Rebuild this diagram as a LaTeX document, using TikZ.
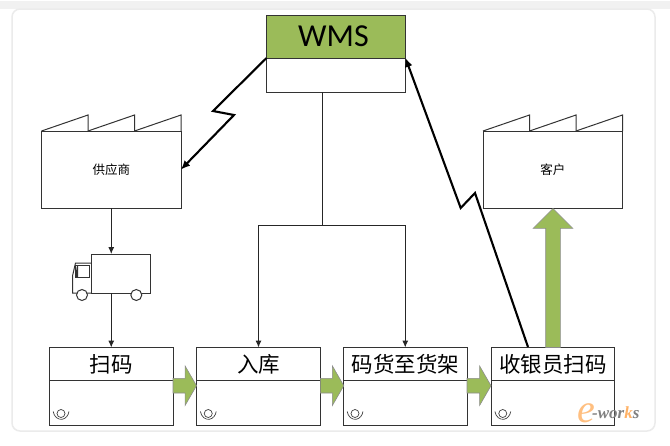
\documentclass[tikz,border=0pt]{standalone}
\usepackage{fontspec}
\setmainfont{Carlito}
\newfontfamily\cjk{Noto Sans CJK SC}
\newfontfamily\markfont{Liberation Serif}
\usetikzlibrary{arrows.meta,positioning,shapes.arrows}
\definecolor{barGreen}{HTML}{9BBB59}
\definecolor{panelGrey}{HTML}{F1F1F1}
\tikzset{%
	box/.style={draw=black!80,fill=white,line width=1pt,outer sep=0pt,inner sep=0pt},%
	prochead/.style={box,minimum width=123.5pt,minimum height=33pt,font=\cjk\fontsize{21.5}{22}\selectfont},%
	procbody/.style={box,minimum width=123.5pt,minimum height=45pt},%
	factory/.style={box,minimum width=139.5pt,minimum height=77pt,font=\cjk\fontsize{12.5}{13}\selectfont},%
	thin link/.style={draw=black!85,line width=1pt,-{Latex[length=7pt,width=6pt]}},%
	zig link/.style={draw=black,line width=2.1pt,-{Latex[length=9pt,width=8pt]}},%
	fat arrow/.style={single arrow,draw=black!45,fill=barGreen,line width=0.6pt,inner xsep=0pt,inner ysep=7pt,outer sep=0pt,minimum width=39pt,single arrow head extend=12.5pt}%
}
\begin{document}
\begin{tikzpicture}
	[x=1pt,y=-1pt%
	,every node/.style={text=black}]
	\useasboundingbox (0,0) rectangle (670,445);
	\fill[white] (0,0) rectangle (670,445);
	\fill[panelGrey] (0,1) rectangle (670,9);
	\fill[white,draw=black!8,line width=1.5pt,rounded corners=8pt] (12,9) rectangle (655,431);
	% top system box
	\node[box,fill=barGreen,minimum width=139pt,minimum height=43pt,font=\fontsize{32}{32}\selectfont] (wms) at (336,36.5) {\hspace*{-5pt}WMS};
	\node[box,minimum width=139pt,minimum height=34pt,below=0pt of wms] (wmsbody) {};
	% factories
	\node[factory] (supplier) at (111.25,169.5) {\cjk 供应商};
	\node[factory] (customer) at (552.75,169.5) {\cjk 客户};
	\foreach \fac in {supplier,customer}
		\foreach \i in {0,1,2}
			\draw[draw=black!80,line width=1pt,line join=miter]
				([xshift=\i*46.5pt]\fac.north west) -- ++(46.5,-16) -- ++(0,16);
	% truck
	\node[box,minimum width=58.5pt,minimum height=39pt] (truck) at (120.75,273.5) {};
	\draw[draw=black!80,line width=1pt] (truck.south west) -- ++(-19,0) -- ++(0,-17) -- ++(3,-13) -- ++(16,0);
	\draw[draw=black!80,line width=0.8pt] ([shift={(-16.5,-15.5)}]truck.south west) rectangle ([shift={(-2.5,-27.5)}]truck.south west);
	\fill[black!80] ([shift={(-16.5,-15.5)}]truck.south west) -- ++(3,0) -- ++(0,-12) -- ++(-1,0) -- cycle;
	\node[box,circle,minimum size=11pt] (wheelA) at (82,295) {};
	\node[box,circle,minimum size=11pt] (wheelB) at (136.3,295) {};
	% process boxes
	\foreach \name/\xc/\lab in {scan/111.25/扫码,store/258.5/入库,shelf/405.25/码货至货架,till/553/收银员扫码} {
		\node[prochead] (\name) at (\xc,364) {\lab};
		\node[procbody,below=0pt of \name] (\name body) {};
		% operator mark
		\draw[draw=black!75,line width=0.7pt] ([shift={(11.5,-12)}]\name body.south west) circle (4pt);
		\draw[draw=black!75,line width=0.7pt] ([shift={(3.7,-14)}]\name body.south west) arc (170:10:8 and 9.5);
	}
	% green arrows
	\node[fat arrow,single arrow tip angle=120,anchor=tail,minimum height=23.5pt] (arrowA) at (173,385.7) {};
	\node[fat arrow,single arrow tip angle=120,anchor=tail,minimum height=23.5pt] (arrowB) at (320.3,385.7) {};
	\node[fat arrow,single arrow tip angle=120,anchor=tail,minimum height=24pt] (arrowC) at (467,385.7) {};
	\node[fat arrow,anchor=tail,rotate=90,minimum height=139pt] (arrowUp) at (till.north) {};
	% links
	\draw[thin link] (supplier) -- (supplier |- truck.north);
	\draw[thin link] (supplier |- truck.south) -- (scan);
	\coordinate (busJ) at (322,225);
	\coordinate (busTop) at (wmsbody.south -| busJ);
	\coordinate (busL) at (store |- busJ);
	\coordinate (busR) at (shelf |- busJ);
	\draw[draw=black!85,line width=1pt] (busTop) -- (busJ);
	\draw[thin link] (busR) -- (busL) -- (store);
	\draw[thin link] (busL) -- (busR) -- (shelf);
	\draw[zig link] (wms.south west) -- (213,111) -- (234,115) -- (supplier.east);
	\coordinate (zigStart) at (528,347);
	\draw[zig link] (zigStart) -- (475,193) -- (460.7,208) -- (wms.south east);
	% watermark
	\node[text=orange!50,font=\markfont\itshape\fontsize{40}{40}\selectfont,inner sep=0pt] (markE) at (586,413) {e};
	\node[text=black!50,font=\markfont\bfseries\itshape\fontsize{17}{17}\selectfont,inner sep=0pt,anchor=west] (markW) at (592,413) {-wor\textcolor{orange!60}{k}s};
\end{tikzpicture}
\end{document}
